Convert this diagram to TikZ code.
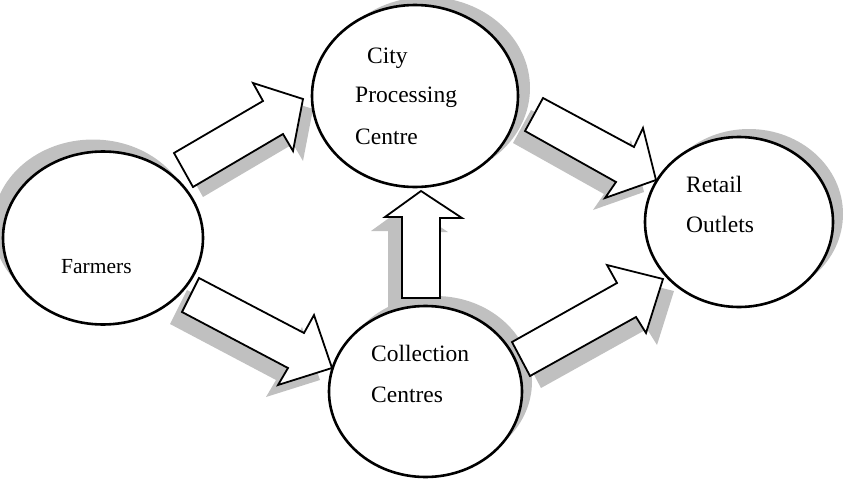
\documentclass[tikz,border=0pt]{standalone}
\usepackage{fontspec}
\setmainfont{Liberation Serif}
\usetikzlibrary{shapes.geometric}
\definecolor{shadowgray}{HTML}{C0C0C0}
\tikzset{
  bubble/.style={ellipse, draw=black, line width=2.6pt, fill=white, inner sep=0pt},
  bubbleshadow/.style={ellipse, fill=shadowgray, draw=none, inner sep=0pt},
  arrowbody/.style={draw=black, line width=1.8pt, fill=white, line join=miter},
  arrowshadow/.style={fill=shadowgray, draw=none},
  lbl/.style={anchor=base west, inner sep=0pt, font=\fontsize{23.5}{28}\selectfont},
}
\newcommand{\arrowA}{(174,153) -- (263,101) -- (253,83) -- (303,99) -- (293,151) -- (283,134) -- (193,187) -- cycle}
\newcommand{\arrowB}{(199,278) -- (304,333) -- (314,315) -- (332,368) -- (278,385) -- (288,368) -- (182,312) -- cycle}
\newcommand{\arrowC}{(543,98) -- (634,147) -- (643,128) -- (656,180) -- (605,198) -- (616,182) -- (525,131) -- cycle}
\newcommand{\arrowD}{(402,298) -- (402,217) -- (385,217) -- (421,191) -- (462,218) -- (440,218) -- (440,298) -- cycle}
\newcommand{\arrowE}{(512,342) -- (617,283) -- (607,265) -- (663,279) -- (646,333) -- (636,317) -- (530,376) -- cycle}
\begin{document}
\begin{tikzpicture}[x=1pt,y=-1pt]
\useasboundingbox (0,0) rectangle (847,498);
% arrow shadows
\fill[arrowshadow, shift={(10,10)}] \arrowA;
\fill[arrowshadow, shift={(-12,12)}] \arrowB;
\fill[arrowshadow, shift={(-12,12)}] \arrowC;
\fill[arrowshadow, shift={(-14,14)}] \arrowD;
\fill[arrowshadow, shift={(11,12)}] \arrowE;
% ellipse shadows
\node[bubbleshadow, minimum width=200pt, minimum height=173pt] (farmersS) at (93,226) {};
\node[bubbleshadow, minimum width=206pt, minimum height=182pt] (cityS) at (427,88) {};
\node[bubbleshadow, minimum width=188pt, minimum height=170pt] (retailS) at (749,214) {};
\node[bubbleshadow, minimum width=193pt, minimum height=171pt] (collS) at (435.5,381.5) {};
% arrows
\filldraw[arrowbody] \arrowA;
\filldraw[arrowbody] \arrowB;
\filldraw[arrowbody] \arrowC;
\filldraw[arrowbody] \arrowD;
\filldraw[arrowbody] \arrowE;
% ellipses
\node[bubble, minimum width=200pt, minimum height=173pt] (farmers) at (103,238) {};
\node[bubble, minimum width=206pt, minimum height=182pt] (city) at (415,96) {};
\node[bubble, minimum width=188pt, minimum height=170pt] (retail) at (739,222) {};
\node[bubble, minimum width=193pt, minimum height=171pt] (coll) at (425.5,391.5) {};
% labels
\node[lbl, font=\fontsize{21.5}{26}\selectfont] (tFarmers) at (61,273) {Farmers};
\node[lbl] (tCity1) at (367,63) {City};
\node[lbl] (tCity2) at (355,102) {Processing};
\node[lbl] (tCity3) at (355,144) {Centre};
\node[lbl] (tRetail1) at (686,192) {Retail};
\node[lbl] (tRetail2) at (686,232) {Outlets};
\node[lbl] (tColl1) at (371,361) {Collection};
\node[lbl] (tColl2) at (371,402) {Centres};
\end{tikzpicture}
\end{document}
